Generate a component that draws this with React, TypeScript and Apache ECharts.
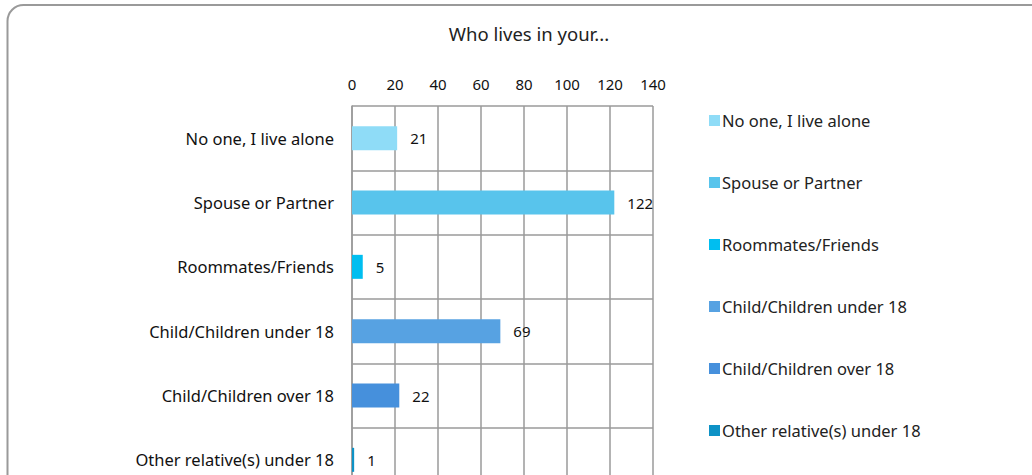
import React, { useEffect, useRef } from "react";
import * as echarts from "echarts";

const categories = [
  "No one, I live alone",
  "Spouse or Partner",
  "Roommates/Friends",
  "Child/Children under 18",
  "Child/Children over 18",
  "Other relative(s) under 18",
];
const values = [21, 122, 5, 69, 22, 1];
const colors = ["#8FDCF7", "#58C4EC", "#00BEF0", "#57A2E2", "#4690DC", "#0E92C6"];
const xTicks = [0, 20, 40, 60, 80, 100, 120, 140];

const FONT = "Noto Sans";

export default function App() {
  const ref = useRef<HTMLDivElement>(null);
  useEffect(() => {
    if (!ref.current) return;
    const chart = echarts.init(ref.current, null, { renderer: "svg" });
    const series = categories.map((c, i) => ({
      name: c,
      type: "bar",
      stack: "all",
      barWidth: 24,
      data: values.map((v, j) => (j === i ? v : "-")),
      itemStyle: { color: colors[i] },
      label: {
        show: true,
        position: "right",
        distance: 13,
        color: "#111",
        fontSize: 15,
        fontFamily: FONT,
      },
    }));
    chart.setOption({
      animation: false,
      graphic: [
        {
          type: "rect",
          shape: { x: 7.5, y: 5, width: 1200, height: 800, r: 16 },
          style: { fill: "none", stroke: "#9a9a9a", lineWidth: 2 },
          z: -10,
        },
        {
          type: "text",
          x: 529,
          y: 33,
          style: {
            text: "Who lives in your...",
            fill: "#222",
            font: `18.5px "Noto Sans"`,
            textAlign: "center",
            textVerticalAlign: "middle",
          },
        },
      ],
      legend: {
        orient: "vertical",
        left: 704,
        top: 107,
        itemWidth: 11,
        itemHeight: 11,
        itemGap: 45,
        icon: "rect",
        data: categories,
        textStyle: { color: "#222", fontSize: 16.5, fontFamily: FONT, padding: [0, 0, 0, -3] },
      },
      grid: { left: 352, right: 379, top: 106, bottom: 68 },
      xAxis: {
        type: "value",
        position: "top",
        min: xTicks[0],
        max: xTicks[xTicks.length - 1],
        interval: 20,
        axisLine: { show: false },
        axisTick: { show: false },
        axisLabel: { color: "#111", fontSize: 15, fontFamily: FONT, margin: 15 },
        splitLine: { show: true, lineStyle: { color: "#9a9a9a", width: 1.5 } },
      },
      yAxis: {
        type: "category",
        inverse: true,
        data: categories,
        axisLine: { show: true, lineStyle: { color: "#9a9a9a", width: 1.5 } },
        axisTick: { show: false },
        axisLabel: { color: "#111", fontSize: 16.5, fontFamily: FONT, margin: 18 },
        splitLine: { show: true, lineStyle: { color: "#9a9a9a", width: 1.5 } },
      },
      series,
    });
    return () => chart.dispose();
  }, []);
  return (
    <div style={{ position: "absolute", left: 0, top: 0, width: 1032, height: 475, overflow: "hidden", background: "#fff" }}>
      <div ref={ref} style={{ width: 1032, height: 560 }} />
    </div>
  );
}
